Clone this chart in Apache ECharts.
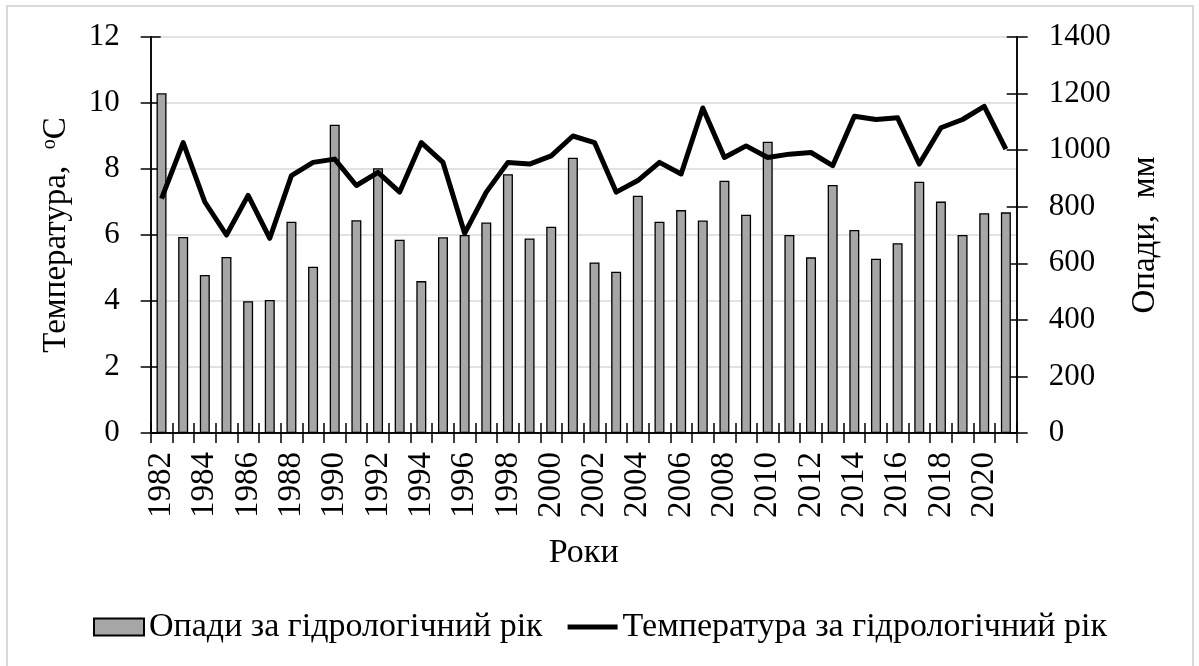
<!DOCTYPE html>
<html>
<head>
<meta charset="utf-8">
<script src="https://cdn.jsdelivr.net/npm/echarts@6/dist/echarts.min.js"></script>
<style>
html,body{margin:0;padding:0;background:#fff;}
#chart{width:1199px;height:666px;}
</style>
</head>
<body>
<div id="chart"></div>
<script>
var years = ['1982','1983','1984','1985','1986','1987','1988','1989','1990','1991',
             '1992','1993','1994','1995','1996','1997','1998','1999','2000','2001',
             '2002','2003','2004','2005','2006','2007','2008','2009','2010','2011',
             '2012','2013','2014','2015','2016','2017','2018','2019','2020','2021'];
var precipitation = [1201,693,559,622,466,470,747,588,1090,752,
                     936,683,537,692,700,744,915,688,729,973,
                     603,570,839,747,788,751,892,772,1030,700,
                     621,877,718,616,671,888,818,700,777,780];
var temperature = [7.1,8.8,7.0,6.0,7.2,5.9,7.8,8.2,8.3,7.5,
                   7.9,7.3,8.8,8.2,6.05,7.3,8.2,8.15,8.4,9.0,
                   8.8,7.3,7.65,8.2,7.85,9.85,8.35,8.7,8.35,8.45,
                   8.5,8.1,9.6,9.5,9.55,8.15,9.25,9.5,9.9,8.6];
var tempTicks = {min:0, max:12, interval:2};
var precTicks = {min:0, max:1400, interval:200};

var FONT = '"Liberation Serif","Times New Roman",serif';
var chart = echarts.init(document.getElementById('chart'), null, {renderer:'canvas'});
var axisLine = {show:true, lineStyle:{color:'#000', width:1.5}};
var gridBox = {left:150.7, right:182.3, top:37, bottom:233, containLabel:false};
var tickStyle = {color:'#000', width:1.5};
function tickAxisY(ticks, pos){
  return {type:'value', gridIndex:1, position:pos, min:ticks.min, max:ticks.max, interval:ticks.interval,
    axisLine:{show:true, lineStyle:{color:'#000', width:1.5}}, axisLabel:{show:false}, splitLine:{show:false},
    axisTick:{show:true, inside:true, length:10, lineStyle:tickStyle}};
}
chart.setOption({
  animation:false,
  backgroundColor:'#fff',
  textStyle:{fontFamily:FONT},
  graphic:[{type:'rect', shape:{x:7, y:6, width:1186, height:670},
    style:{fill:'none', stroke:'#d9d9d9', lineWidth:2}, silent:true, z:-1}],
  grid:[gridBox, Object.assign({}, gridBox)],
  legend:{
    left:93, top:610, padding:0, itemGap:25, itemWidth:50, itemHeight:17,
    textStyle:{fontFamily:FONT, fontSize:34, color:'#000'},
    data:[
      {name:'Опади за гідрологічний рік', icon:'rect'},
      {name:'Температура за гідрологічний рік', icon:'path://M0,0H50V5H0Z', itemStyle:{color:'#000'}}
    ]
  },
  xAxis:[{
    type:'category', data:years, boundaryGap:true,
    name:'Роки', nameLocation:'middle', nameGap:103,
    nameTextStyle:{fontFamily:FONT, fontSize:34, color:'#000'},
    axisLine:axisLine,
    axisTick:{show:true, interval:0, length:10, lineStyle:tickStyle},
    axisLabel:{interval:1, rotate:90, margin:19, fontFamily:FONT, fontSize:33, color:'#000'},
    splitLine:{show:false}
  },{
    type:'category', gridIndex:1, data:years, boundaryGap:true, position:'bottom',
    axisLine:{show:true, lineStyle:{color:'#000', width:1.5}}, axisLabel:{show:false}, splitLine:{show:false},
    axisTick:{show:true, inside:true, interval:0, length:10, lineStyle:tickStyle}
  }],
  yAxis:[{
    type:'value', position:'left', min:tempTicks.min, max:tempTicks.max, interval:tempTicks.interval,
    name:'Температура,  {sup|o}С', nameLocation:'middle', nameGap:78, nameRotate:90,
    nameTextStyle:{fontFamily:FONT, fontSize:33, color:'#000',
      rich:{sup:{fontFamily:FONT, fontSize:20, color:'#000', verticalAlign:'top', padding:[0,0,13,0]}}},
    axisLine:axisLine,
    axisTick:{show:true, length:10, lineStyle:tickStyle},
    axisLabel:{margin:31, fontFamily:FONT, fontSize:31, color:'#000'},
    splitLine:{show:true, lineStyle:{color:'#d9d9d9', width:1.5}}
  },{
    type:'value', position:'right', min:precTicks.min, max:precTicks.max, interval:precTicks.interval,
    name:'Опади,  мм', nameLocation:'middle', nameGap:112, nameRotate:90,
    nameTextStyle:{fontFamily:FONT, fontSize:33, color:'#000'},
    axisLine:axisLine,
    axisTick:{show:true, length:11, lineStyle:tickStyle},
    axisLabel:{margin:32, fontFamily:FONT, fontSize:31, color:'#000', formatter:function(v){return String(v);}},
    splitLine:{show:false}
  },
  tickAxisY(tempTicks,'left'),
  tickAxisY(precTicks,'right')
  ],
  series:[{
    name:'Опади за гідрологічний рік', type:'bar', yAxisIndex:1, data:precipitation,
    barWidth:10,
    itemStyle:{color:'#a6a6a6', borderColor:'#000', borderWidth:1.3}
  },{
    name:'Температура за гідрологічний рік', type:'line', yAxisIndex:0, data:temperature,
    symbol:'none', showSymbol:false,
    lineStyle:{color:'#000', width:5, join:'round'},
    itemStyle:{color:'#000'}
  },{
    name:'ticks-left', type:'line', xAxisIndex:1, yAxisIndex:2, data:[], silent:true, symbol:'none'
  },{
    name:'ticks-right', type:'line', xAxisIndex:1, yAxisIndex:3, data:[], silent:true, symbol:'none'
  }]
});
</script>
</body>
</html>
